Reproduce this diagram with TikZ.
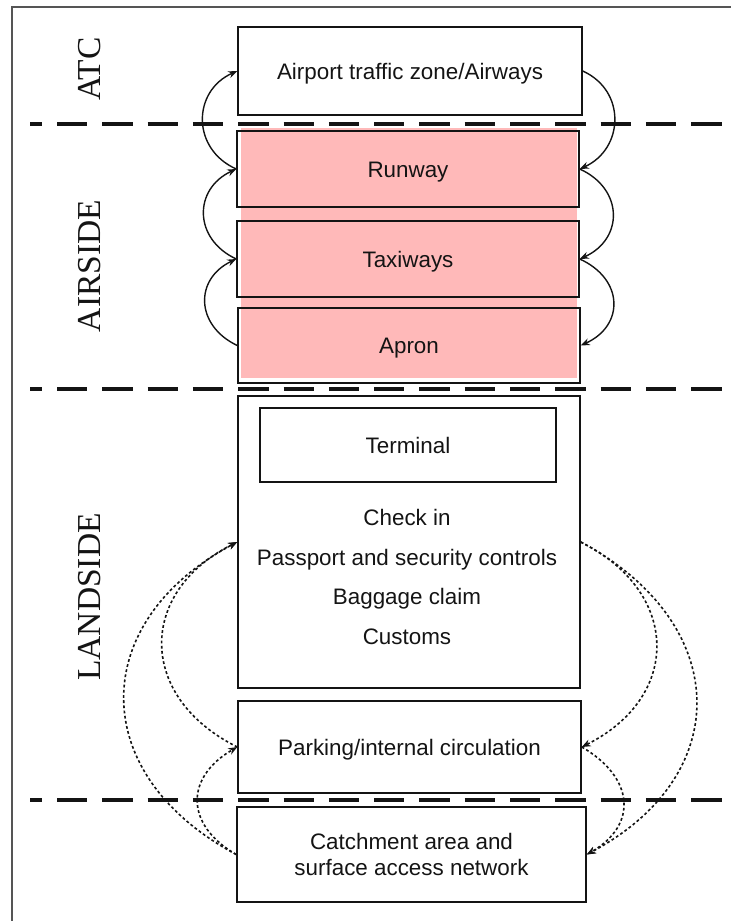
\documentclass[tikz,border=0pt]{standalone}
\usepackage{fontspec}
\setmainfont{Liberation Sans}
\newfontfamily\labelfont{Liberation Serif}
\usetikzlibrary{arrows.meta}
\definecolor{pinkfill}{RGB}{255,185,185}
\definecolor{framegray}{RGB}{85,85,85}
\definecolor{inkcol}{RGB}{20,20,20}
\begin{document}
\begin{tikzpicture}[x=1pt,y=-1pt,
  box/.style={draw=inkcol, line width=1.5pt, inner sep=0pt, text=inkcol,
    font=\fontsize{22.4}{26}\selectfont, align=center},
  onebox/.style={box, text height=18pt, text depth=2pt},
  lbl/.style={font=\labelfont\fontsize{33.5}{36}\selectfont, rotate=90, inner sep=0pt, text=inkcol},
  sepline/.style={line width=3.2pt, draw=inkcol, dash pattern=on 30.3pt off 15pt, dash phase=18.3pt},
  solidarr/.style={line width=1.4pt, draw=inkcol, -{Stealth[length=9pt,width=7pt]}},
  dotarr/.style={line width=1.6pt, draw=inkcol, dash pattern=on 2.8pt off 2.4pt, -{Stealth[length=9pt,width=7pt]}}]
\useasboundingbox (0,0) rectangle (731,921);
% frame
\draw[framegray, line width=2.4pt] (12,921) -- (12,7) -- (731,7);
% pink airside background
\fill[pinkfill] (241,128) rectangle (577,378);
% separators
\draw[sepline] (30,124) -- (722,124);
\draw[sepline] (30,389) -- (722,389);
\draw[sepline] (30,800) -- (722,800);
% side labels
\node[lbl] (latc) at (90,69) {ATC};
\node[lbl] (lair) at (90,266) {AIRSIDE};
\node[lbl] (lland) at (90,597) {LANDSIDE};
% boxes
\node[onebox, minimum width=344pt, minimum height=88pt] (atc) at (410,71) {Airport traffic zone/Airways};
\node[onebox, minimum width=342pt, minimum height=76pt] (runway) at (408,169) {Runway};
\node[onebox, minimum width=342pt, minimum height=76pt] (taxi) at (408,259) {Taxiways};
\node[onebox, minimum width=342pt, minimum height=75pt] (apron) at (409,345.5) {Apron};
\node[box, minimum width=342pt, minimum height=292pt] (term) at (409,542) {};
\node[onebox, minimum width=296pt, minimum height=74pt] (termin) at (408,445) {Terminal};
\node[text=inkcol, font=\fontsize{22.4}{39.7}\selectfont, align=center, inner sep=0pt] (termtxt) at (407,577)
  {Check in\\Passport and security controls\\Baggage claim\\Customs};
\node[onebox, minimum width=343pt, minimum height=92pt] (park) at (409.5,747) {Parking/internal circulation};
\node[box, minimum width=349pt, minimum height=95pt] (catch) at (411.5,854.5) {Catchment area and\\surface access network};
% airside solid arrows
\draw[solidarr] (runway.west) .. controls +(-45,-20) and +(-45,20) .. (atc.west);
\draw[solidarr] (taxi.west) .. controls +(-43,-20) and +(-43,20) .. (runway.west);
\draw[solidarr] (apron.west) .. controls +(-42,-20) and +(-42,20) .. (taxi.west);
\draw[solidarr] (atc.east) .. controls +(44,20) and +(44,-20) .. (runway.east);
\draw[solidarr] (runway.east) .. controls +(44,20) and +(44,-20) .. (taxi.east);
\draw[solidarr] (taxi.east) .. controls +(44,20) and +(44,-20) .. (apron.east);
% landside dotted arrows
\draw[dotarr] (catch.west) .. controls +(-150,-80) and +(-150,80) .. (term.west);
\draw[dotarr] (park.west) .. controls +(-100,-50) and +(-100,50) .. (term.west);
\draw[dotarr] (catch.west) .. controls +(-52,-30) and +(-52,30) .. (park.west);
\draw[dotarr] (term.east) .. controls +(100,50) and +(100,-50) .. (park.east);
\draw[dotarr] (term.east) .. controls +(150,80) and +(150,-80) .. (catch.east);
\draw[dotarr] (park.east) .. controls +(52,30) and +(52,-30) .. (catch.east);
\end{tikzpicture}
\end{document}
